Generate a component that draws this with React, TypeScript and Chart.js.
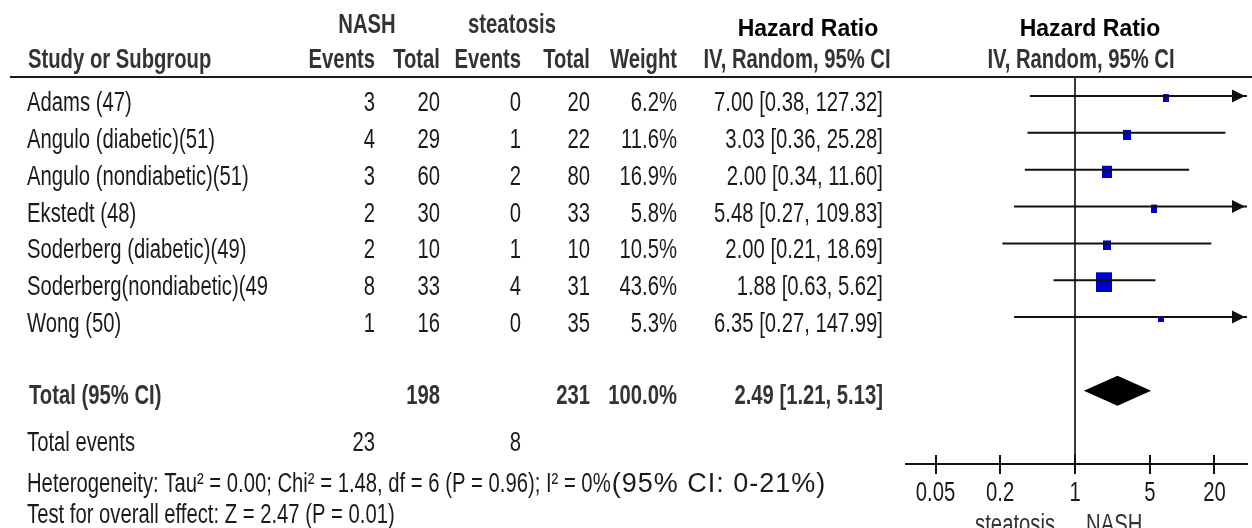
import React, { useEffect, useRef } from 'react';
import { Chart, registerables } from 'chart.js';

Chart.register(...registerables);

// ---------- data ----------
const STUDIES = [
  'Adams (47)',
  'Angulo (diabetic)(51)',
  'Angulo (nondiabetic)(51)',
  'Ekstedt (48)',
  'Soderberg (diabetic)(49)',
  'Soderberg(nondiabetic)(49',
  'Wong (50)',
];
const NASH_EVENTS = [3, 4, 3, 2, 2, 8, 1];
const NASH_TOTAL = [20, 29, 60, 30, 10, 33, 16];
const STEA_EVENTS = [0, 1, 2, 0, 1, 4, 0];
const STEA_TOTAL = [20, 22, 80, 33, 10, 31, 35];
const WEIGHTS = [6.2, 11.6, 16.9, 5.8, 10.5, 43.6, 5.3];
const HR = [7.0, 3.03, 2.0, 5.48, 2.0, 1.88, 6.35];
const CI_LOW = [0.38, 0.36, 0.34, 0.27, 0.21, 0.63, 0.27];
const CI_HIGH = [127.32, 25.28, 11.6, 109.83, 18.69, 5.62, 147.99];

const TOTAL_NASH = 198;
const TOTAL_STEA = 231;
const TOTAL_WEIGHT = 100.0;
const POOLED_HR = 2.49;
const POOLED_LOW = 1.21;
const POOLED_HIGH = 5.13;
const EVENTS_NASH = 23;
const EVENTS_STEA = 8;

const X_TICKS = [0.05, 0.2, 1, 5, 20];
const HETEROGENEITY = 'Heterogeneity: Tau\u00B2 = 0.00; Chi\u00B2 = 1.48, df = 6 (P = 0.96); I\u00B2 = 0%';
const HET_CI = '(95% CI: 0-21%)';
const OVERALL = 'Test for overall effect: Z = 2.47 (P = 0.01)';

// ---------- layout ----------
const W = 1252;
const H = 528;
const X_MIN = 0.0265;
const X_MAX = 40.2;
const Y_MIN = -0.5156;
const Y_MAX = 9.986;
const TOTAL_ROW = 8;

function hasFont(name: string): boolean {
  const c = document.createElement('canvas').getContext('2d')!;
  const probe = 'Adams (nondiabetic) 0.05 WMmi';
  c.font = '40px monospace';
  const a = c.measureText(probe).width;
  c.font = `40px "${name}", monospace`;
  const b = c.measureText(probe).width;
  return Math.abs(a - b) > 0.5;
}

let NARROW: boolean | null = null;

type TOpt = {
  size?: number;
  bold?: boolean;
  align?: CanvasTextAlign;
  color?: string;
  narrow?: boolean;
  spacing?: number;
};

function setFont(ctx: CanvasRenderingContext2D, o: TOpt): number {
  if (NARROW === null) NARROW = hasFont('Liberation Sans Narrow');
  const size = o.size ?? 27;
  const weight = o.bold ? 'bold ' : '';
  let sx = 1;
  if (o.narrow !== false) {
    if (NARROW) {
      ctx.font = `${weight}${size}px "Liberation Sans Narrow", "Liberation Sans", Arial, sans-serif`;
      sx = 0.915;
    } else {
      ctx.font = `${weight}${size}px "Liberation Sans", Arial, sans-serif`;
      sx = 0.75;
    }
  } else {
    ctx.font = `${weight}${size}px "Liberation Sans", Arial, sans-serif`;
  }
  return sx;
}

function txt(ctx: CanvasRenderingContext2D, s: string, x: number, y: number, o: TOpt = {}): number {
  ctx.save();
  const sx = setFont(ctx, o);
  (ctx as any).letterSpacing = `${o.spacing ?? 0}px`;
  ctx.fillStyle = o.color ?? '#1a1a1a';
  ctx.textAlign = o.align ?? 'left';
  ctx.textBaseline = 'alphabetic';
  const w = ctx.measureText(s).width * sx;
  ctx.translate(x, y);
  ctx.scale(sx, 1);
  ctx.fillText(s, 0, 0);
  ctx.restore();
  return w;
}

const fmtCI = (m: number, lo: number, hi: number) => `${m.toFixed(2)} [${lo.toFixed(2)}, ${hi.toFixed(2)}]`;

const forestPlugin = {
  id: 'forestTable',
  beforeDatasetsDraw(chart: any) {
    const ctx: CanvasRenderingContext2D = chart.ctx;
    const xs = chart.scales.x;
    const area = chart.chartArea;
    ctx.save();
    // header rule
    ctx.strokeStyle = '#1a1a1a';
    ctx.lineWidth = 2;
    ctx.beginPath();
    ctx.moveTo(10, area.top);
    ctx.lineTo(W, area.top);
    ctx.stroke();
    // line of no effect
    const x1 = Math.round(xs.getPixelForValue(1));
    ctx.strokeStyle = '#3a3a3a';
    ctx.beginPath();
    ctx.moveTo(x1, area.top);
    ctx.lineTo(x1, area.bottom);
    ctx.stroke();
    ctx.restore();
  },
  afterDatasetsDraw(chart: any) {
    const ctx: CanvasRenderingContext2D = chart.ctx;
    const xs = chart.scales.x;
    const ys = chart.scales.y;
    const area = chart.chartArea;

    // arrows for clipped CIs
    ctx.save();
    ctx.fillStyle = '#111';
    CI_HIGH.forEach((hi, i) => {
      if (hi > X_MAX) {
        const y = ys.getPixelForValue(i);
        const tip = area.right - 2;
        ctx.beginPath();
        ctx.moveTo(tip, y);
        ctx.lineTo(tip - 13, y - 6.5);
        ctx.lineTo(tip - 13, y + 6.5);
        ctx.closePath();
        ctx.fill();
      }
    });

    // pooled diamond
    const yc = ys.getPixelForValue(TOTAL_ROW);
    const dl = xs.getPixelForValue(POOLED_LOW);
    const dm = xs.getPixelForValue(POOLED_HR);
    const dr = xs.getPixelForValue(POOLED_HIGH);
    ctx.fillStyle = '#000';
    ctx.beginPath();
    ctx.moveTo(dl, yc);
    ctx.lineTo(dm, yc - 15);
    ctx.lineTo(dr, yc);
    ctx.lineTo(dm, yc + 15);
    ctx.closePath();
    ctx.fill();

    // upper part of axis ticks
    ctx.strokeStyle = '#111';
    ctx.lineWidth = 2;
    X_TICKS.forEach((v) => {
      const x = Math.round(xs.getPixelForValue(v));
      ctx.beginPath();
      ctx.moveTo(x, area.bottom - 9);
      ctx.lineTo(x, area.bottom);
      ctx.stroke();
    });
    ctx.restore();

    // axis labels
    X_TICKS.forEach((v) => {
      txt(ctx, String(v), xs.getPixelForValue(v), 501, { align: 'center', color: '#1a1a1a' });
    });
    const x1 = xs.getPixelForValue(1);
    txt(ctx, 'steatosis', x1 - 20, 533, { align: 'right', color: '#333' });
    txt(ctx, 'NASH', x1 + 11, 533, { align: 'left', color: '#333' });

    // ---- table headers ----
    const HB = '#333';
    txt(ctx, 'NASH', 367, 33, { bold: true, align: 'center', color: HB });
    txt(ctx, 'steatosis', 512, 33, { bold: true, align: 'center', color: HB });
    txt(ctx, 'Hazard Ratio', 808, 36, { bold: true, narrow: false, size: 23, align: 'center', color: '#000' });
    txt(ctx, 'Hazard Ratio', 1090, 36, { bold: true, narrow: false, size: 23, align: 'center', color: '#000' });

    const h2 = 68;
    txt(ctx, 'Study or Subgroup', 28, h2, { bold: true, color: HB });
    txt(ctx, 'Events', 375, h2, { bold: true, align: 'right', color: HB });
    txt(ctx, 'Total', 440, h2, { bold: true, align: 'right', color: HB });
    txt(ctx, 'Events', 521, h2, { bold: true, align: 'right', color: HB });
    txt(ctx, 'Total', 590, h2, { bold: true, align: 'right', color: HB });
    txt(ctx, 'Weight', 677, h2, { bold: true, align: 'right', color: HB });
    txt(ctx, 'IV, Random, 95% CI', 797, h2, { bold: true, align: 'center', color: HB });
    txt(ctx, 'IV, Random, 95% CI', 1081, h2, { bold: true, align: 'center', color: HB });

    // ---- study rows ----
    STUDIES.forEach((name, i) => {
      const b = ys.getPixelForValue(i) + 15;
      txt(ctx, name, 27, b);
      txt(ctx, String(NASH_EVENTS[i]), 375, b, { align: 'right' });
      txt(ctx, String(NASH_TOTAL[i]), 440, b, { align: 'right' });
      txt(ctx, String(STEA_EVENTS[i]), 521, b, { align: 'right' });
      txt(ctx, String(STEA_TOTAL[i]), 590, b, { align: 'right' });
      txt(ctx, `${WEIGHTS[i].toFixed(1)}%`, 677, b, { align: 'right' });
      txt(ctx, fmtCI(HR[i], CI_LOW[i], CI_HIGH[i]), 883, b, { align: 'right' });
    });

    // ---- total row ----
    const tb = ys.getPixelForValue(TOTAL_ROW) + 13;
    txt(ctx, 'Total (95% CI)', 29, tb, { bold: true, color: HB });
    txt(ctx, String(TOTAL_NASH), 440, tb, { bold: true, align: 'right', color: HB });
    txt(ctx, String(TOTAL_STEA), 590, tb, { bold: true, align: 'right', color: HB });
    txt(ctx, `${TOTAL_WEIGHT.toFixed(1)}%`, 677, tb, { bold: true, align: 'right', color: HB });
    txt(ctx, fmtCI(POOLED_HR, POOLED_LOW, POOLED_HIGH), 883, tb, { bold: true, align: 'right', color: HB });

    // ---- footer ----
    txt(ctx, 'Total events', 27, 451);
    txt(ctx, String(EVENTS_NASH), 375, 451, { align: 'right' });
    txt(ctx, String(EVENTS_STEA), 521, 451, { align: 'right' });
    const hw = txt(ctx, HETEROGENEITY, 27, 492);
    txt(ctx, HET_CI, 27 + hw + 1, 492, { narrow: false, size: 27, spacing: 1 });
    txt(ctx, OVERALL, 27, 523);
  },
};

function makeSquares(): HTMLCanvasElement[] {
  return WEIGHTS.map((w) => {
    const side = 2.3 * Math.sqrt(w);
    const sw = Math.max(4, 2 * Math.round(side / 2));
    const sh = 2 * Math.round((side * 1.3) / 2);
    const c = document.createElement('canvas');
    c.width = sw;
    c.height = sh + 4;
    const g = c.getContext('2d')!;
    g.fillStyle = '#0000c8';
    g.fillRect(0, 4, sw, sh);
    return c;
  });
}

export default function App() {
  const ref = useRef<HTMLCanvasElement | null>(null);

  useEffect(() => {
    document.body.style.margin = '0';
    document.body.style.background = '#fff';
    const canvas = ref.current;
    if (!canvas) return;
    const squares = makeSquares();

    const ciSets = STUDIES.map((s, i) => ({
      label: s,
      data: [
        { x: CI_LOW[i], y: i },
        { x: CI_HIGH[i], y: i },
      ],
      showLine: true,
      borderColor: '#111',
      borderWidth: 2,
      pointRadius: 0,
    }));

    const chart = new Chart(canvas, {
      type: 'scatter',
      data: {
        datasets: [
          ...ciSets,
          {
            label: 'Hazard ratio',
            data: HR.map((v, i) => ({ x: v, y: i })),
            pointStyle: (c: any) => squares[c.dataIndex] as any,
            pointRadius: 5,
            backgroundColor: '#0000c8',
            borderWidth: 0,
          } as any,
        ],
      },
      options: {
        responsive: false,
        animation: false,
        events: [],
        layout: { padding: { left: 906, right: 0, top: 77, bottom: 0 } },
        plugins: { legend: { display: false }, tooltip: { enabled: false } },
        scales: {
          x: {
            type: 'logarithmic',
            position: 'bottom',
            min: X_MIN,
            max: X_MAX,
            bounds: 'data',
            afterBuildTicks: (s: any) => {
              s.ticks = X_TICKS.map((v) => ({ value: v }));
            },
            afterFit: (s: any) => {
              s.height = 64;
            },
            ticks: { display: false, autoSkip: false },
            grid: { drawOnChartArea: false, drawTicks: true, tickLength: 10, color: '#111', lineWidth: 2 },
            border: { display: true, color: '#111', width: 2 },
          },
          y: {
            type: 'linear',
            display: false,
            min: Y_MIN,
            max: Y_MAX,
            reverse: true,
          },
        },
      } as any,
      plugins: [forestPlugin],
    });

    return () => chart.destroy();
  }, []);

  return <canvas ref={ref} width={W} height={H} style={{ display: 'block' }} />;
}
